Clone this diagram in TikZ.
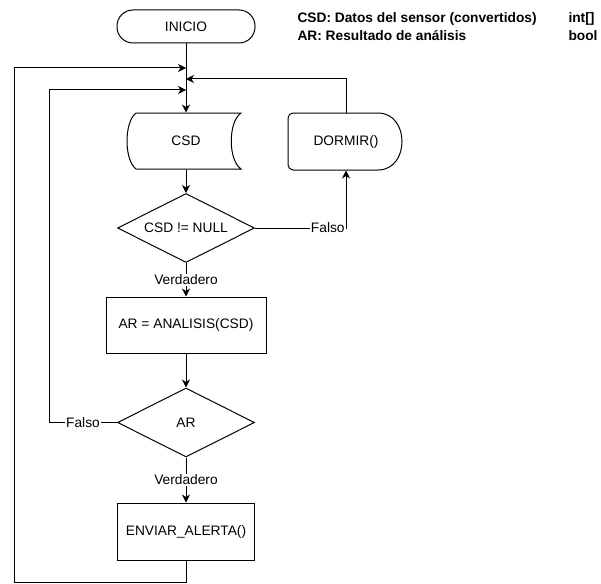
\documentclass[tikz,border=0pt]{standalone}
\usepackage{fontspec}
\setmainfont{Liberation Sans}
\usetikzlibrary{shapes.geometric,arrows.meta}
\begin{document}
\begin{tikzpicture}[x=1pt,y=-1pt,line width=1pt,
  every node/.style={font=\fontsize{13.75}{16}\selectfont},
  arr/.style={-{Stealth[length=8pt,width=8pt,inset=2.5pt]}},
  term/.style={draw,rounded corners=16pt,minimum width=138pt,minimum height=33pt,inner sep=0pt},
  procbox/.style={draw,minimum height=56pt,inner sep=0pt},
  decis/.style={draw,diamond,aspect=2,minimum width=137pt,minimum height=69pt,inner sep=0pt},
  plain/.style={inner sep=0pt},
  lbl/.style={fill=white,inner sep=1pt},
  legend/.style={anchor=west,inner sep=0pt,font=\fontsize{13.75}{16}\selectfont\bfseries}]
\useasboundingbox (0,0) rectangle (601,583);

% nodes
\node[term] (inicio) at (186,26.5) {INICIO};
\node[plain,minimum width=112pt,minimum height=56pt] (csd) at (186,141) {CSD};
\node[plain,minimum width=116pt,minimum height=57pt] (dormir) at (346,141.5) {DORMIR()};
\node[decis] (d1) at (186,228) {CSD != NULL};
\node[procbox,minimum width=160pt] (ana) at (186,325) {AR = ANALISIS(CSD)};
\node[decis] (d2) at (186,422.5) {AR};
\node[procbox,minimum width=137pt,minimum height=57pt] (env) at (186,531.5) {ENVIAR\_ALERTA()};

% shapes drawn around plain nodes
\draw (136,113) -- (241,113) .. controls (228,122) and (228,160) .. (241,169)
      -- (136,169) .. controls (124,160) and (124,122) .. (136,113) -- cycle;
\draw[rounded corners=5pt] (378,113) -- (288,113) -- (288,170) -- (378,170);
\draw (378,113) .. controls (410,113) and (410,170) .. (378,170);

% legend
\node[legend] (l1) at (297,19) {CSD: Datos del sensor (convertidos)};
\node[legend] (l2) at (297,35.5) {AR: Resultado de análisis};
\node[legend] (t1) at (568,19) {int[]};
\node[legend] (t2) at (568,35.5) {bool};

% junction coordinates
\coordinate (j1) at (186,68);
\coordinate (j2) at (186,79);
\coordinate (j3) at (186,90);
\coordinate (b1) at (14,582);
\coordinate (c4) at (49,422.5);

% connectors
\draw[arr] (inicio.south) -- (csd.north);
\draw[arr] (dormir.north) |- (j2);
\draw[arr] (env.south) |- (b1) |- (j1);
\draw[arr] (d2.west) -- node[lbl]{Falso} (c4) |- (j3);
\draw[arr] (csd.south) -- (d1.north);
\draw[arr] (d1.east) -| node[lbl,pos=0.4]{Falso} (dormir.south);
\draw[arr] (d1.south) -- node[lbl]{Verdadero} (ana.north);
\draw[arr] (ana.south) -- (d2.north);
\draw[arr] (d2.south) -- node[lbl]{Verdadero} (env.north);
\end{tikzpicture}
\end{document}
